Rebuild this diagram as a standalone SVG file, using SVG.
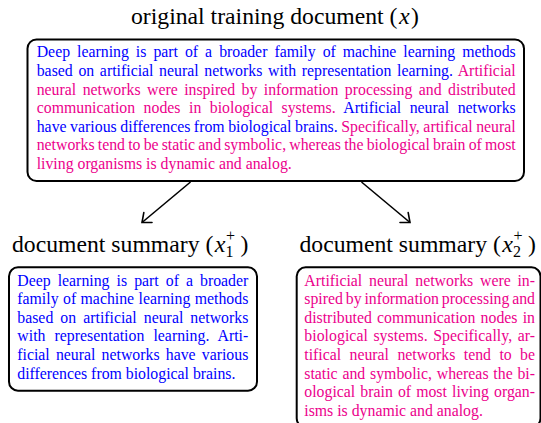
<svg xmlns="http://www.w3.org/2000/svg" width="541" height="423" viewBox="0 0 541 423">
<style>
.title{font-family:"Liberation Serif","Times New Roman",serif;font-size:23.7px;fill:#000}
.mi{font-style:italic;font-size:24px}
.ss{font-family:"Liberation Serif","Times New Roman",serif;font-size:16px;fill:#000}
.body{font-family:"Liberation Serif","Times New Roman",serif;font-size:15.8px}
.b{fill:#0000FF}
.p{fill:#EC008C}
.box{fill:#fff;stroke:#000;stroke-width:2}
.conn{stroke:#000;stroke-width:1.6;fill:none}
</style>
<defs>
<marker id="arr" markerUnits="userSpaceOnUse" markerWidth="20" markerHeight="20" viewBox="-10 -10 20 20" refX="0" refY="0" orient="auto">
<path d="M -7.7,-6.4 L 0,0 L -7.7,6.4" fill="none" stroke="#000" stroke-width="1.6" stroke-linecap="round" stroke-linejoin="miter"/>
</marker>
</defs>
<rect width="541" height="423" fill="#fff"/>

<g id="node-original">
<text class="title" x="131" y="24">original training document (<tspan class="mi" dx="1.5">x</tspan><tspan dx="1.5">)</tspan></text>
<rect class="box" x="27.5" y="39.5" width="496.5" height="141.5" rx="9"/>
<text class="body b" x="36.7" y="57.3" textLength="479" lengthAdjust="spacing" word-spacing="3.05">Deep learning is part of a broader family of machine learning methods</text>
<text class="body" x="36.7" y="75.9" textLength="479" lengthAdjust="spacing" word-spacing="1.68"><tspan class="b">based on artificial neural networks with representation learning.</tspan><tspan class="p"> Artificial</tspan></text>
<text class="body p" x="36.7" y="94.5" textLength="479" lengthAdjust="spacing" word-spacing="2.5">neural networks were inspired by information processing and distributed</text>
<text class="body" x="36.7" y="113.1" textLength="479" lengthAdjust="spacing" word-spacing="4.5"><tspan class="p">communication nodes in biological systems.</tspan><tspan class="b"> Artificial neural networks</tspan></text>
<text class="body" x="36.7" y="131.7" textLength="479" lengthAdjust="spacing" word-spacing="-0.46"><tspan class="b">have various differences from biological brains.</tspan><tspan class="p"> Specifically, artifical neural</tspan></text>
<text class="body p" x="36.7" y="150.3" textLength="479" lengthAdjust="spacing" word-spacing="-0.78">networks tend to be static and symbolic, whereas the biological brain of most</text>
<text class="body p" x="36.7" y="168.9">living organisms is dynamic and analog.</text>
</g>

<g id="node-summary1">
<text class="title" x="12" y="251.5">document summary (<tspan class="mi" dx="1.5">x</tspan></text>
<text class="ss"><tspan x="226" y="241">+</tspan><tspan x="225.5" y="256.5">1</tspan></text>
<text class="title" x="240.5" y="251.5">)</text>
<rect class="box" x="9" y="267.3" width="248" height="123.4" rx="9"/>
<text class="body b" x="17.3" y="285.6" textLength="231" lengthAdjust="spacing" word-spacing="3.1">Deep learning is part of a broader</text>
<text class="body b" x="17.3" y="304.2" textLength="231" lengthAdjust="spacing" word-spacing="0.48">family of machine learning methods</text>
<text class="body b" x="17.3" y="322.8" textLength="231" lengthAdjust="spacing" word-spacing="3.1">based on artificial neural networks</text>
<text class="body b" x="17.3" y="341.4" textLength="231" lengthAdjust="spacing" word-spacing="5.0">with representation learning. Arti-</text>
<text class="body b" x="17.3" y="360" textLength="231" lengthAdjust="spacing" word-spacing="2.25">ficial neural networks have various</text>
<text class="body b" x="17.3" y="378.6">differences from biological brains.</text>
</g>

<g id="node-summary2">
<text class="title" x="299.5" y="251.5">document summary (<tspan class="mi" dx="1.5">x</tspan></text>
<text class="ss"><tspan x="513.5" y="241">+</tspan><tspan x="513" y="256.5">2</tspan></text>
<text class="title" x="528" y="251.5">)</text>
<rect class="box" x="296.7" y="267.3" width="243.8" height="160" rx="9"/>
<text class="body p" x="304.3" y="285.6" textLength="230.7" lengthAdjust="spacing" word-spacing="2.8">Artificial neural networks were in-</text>
<text class="body p" x="304.3" y="304.2" textLength="230.7" lengthAdjust="spacing" word-spacing="-1.1">spired by information processing and</text>
<text class="body p" x="304.3" y="322.8" textLength="230.7" lengthAdjust="spacing" word-spacing="1.27">distributed communication nodes in</text>
<text class="body p" x="304.3" y="341.4" textLength="230.7" lengthAdjust="spacing" word-spacing="1.56">biological systems. Specifically, ar-</text>
<text class="body p" x="304.3" y="360" textLength="230.7" lengthAdjust="spacing" word-spacing="4.46">tifical neural networks tend to be</text>
<text class="body p" x="304.3" y="378.6" textLength="230.7" lengthAdjust="spacing" word-spacing="0.86">static and symbolic, whereas the bi-</text>
<text class="body p" x="304.3" y="397.2" textLength="230.7" lengthAdjust="spacing" word-spacing="1.1">ological brain of most living organ-</text>
<text class="body p" x="304.3" y="415.8">isms is dynamic and analog.</text>
</g>

<g id="connectors">
<line class="conn" x1="190.5" y1="182" x2="142" y2="222.5" marker-end="url(#arr)"/>
<line class="conn" x1="361.5" y1="182" x2="410" y2="222.5" marker-end="url(#arr)"/>
</g>
</svg>
